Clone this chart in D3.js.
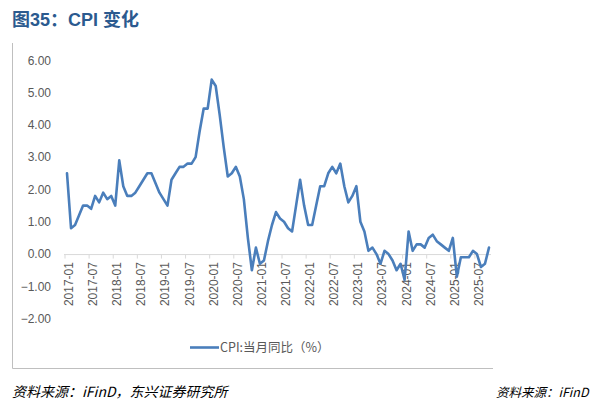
<!DOCTYPE html>
<html><head><meta charset="utf-8">
<script src="https://cdn.jsdelivr.net/npm/d3@7/dist/d3.min.js"></script>
<style>body{margin:0;background:#fff}svg{display:block}</style>
</head><body>
<script>
// ---- data ----
const startYear = 2017;
const cpiValues = [
  2.5, 0.8, 0.9, 1.2, 1.5, 1.5, 1.4, 1.8, 1.6, 1.9, 1.7, 1.8,
  1.5, 2.9, 2.1, 1.8, 1.8, 1.9, 2.1, 2.3, 2.5, 2.5, 2.2, 1.9,
  1.7, 1.5, 2.3, 2.5, 2.7, 2.7, 2.8, 2.8, 3.0, 3.8, 4.5, 4.5,
  5.4, 5.2, 4.3, 3.3, 2.4, 2.5, 2.7, 2.4, 1.7, 0.5, -0.5, 0.2,
  -0.3, -0.2, 0.4, 0.9, 1.3, 1.1, 1.0, 0.8, 0.7, 1.5, 2.3, 1.5,
  0.9, 0.9, 1.5, 2.1, 2.1, 2.5, 2.7, 2.5, 2.8, 2.1, 1.6, 1.8,
  2.1, 1.0, 0.7, 0.1, 0.2, 0.0, -0.3, 0.1, 0.0, -0.2, -0.5, -0.3,
  -0.8, 0.7, 0.1, 0.3, 0.3, 0.2, 0.5, 0.6, 0.4, 0.3, 0.2, 0.1,
  0.5, -0.7, -0.1, -0.1, -0.1, 0.1, 0.0, -0.4, -0.3, 0.2
];
const categories = cpiValues.map((v, i) =>
  `${startYear + Math.floor(i / 12)}-${String(i % 12 + 1).padStart(2, "0")}`);
const tickLabels = ["2017-01","2017-07","2018-01","2018-07","2019-01","2019-07",
  "2020-01","2020-07","2021-01","2021-07","2022-01","2022-07","2023-01","2023-07",
  "2024-01","2024-07","2025-01","2025-07"];
const yTicks = [-2, -1, 0, 1, 2, 3, 4, 5, 6];
const title = "图35：CPI 变化";
const legendLabel = "CPI:当月同比（%）";
const sourceText = "资料来源：iFinD，东兴证券研究所";
const sourceTextRight = "资料来源：iFinD";

// ---- drawing ----
const W = 596, H = 410;
const svg = d3.select("body").append("svg").attr("width", W).attr("height", H);
svg.append("rect").attr("width", W).attr("height", H).attr("fill", "#fff");

const x = d3.scaleBand().domain(categories).range([65, 491]).padding(0);
const y = d3.scaleLinear().domain([-2, 6]).range([318.7, 60.2]);

// frame (left + bottom)
svg.append("path").attr("d", "M12.5,43 V368.5 H493")
  .attr("fill", "none").attr("stroke", "#bfbfbf").attr("stroke-width", 1);

// title
svg.append("text").attr("x", 12).attr("y", 26).text(title)
  .attr("font-family", "Liberation Sans, Noto Sans CJK SC, sans-serif")
  .attr("font-size", 18).attr("font-weight", "bold").attr("fill", "#2b5a8f");

// y axis labels
const yAxis = d3.axisLeft(y).tickValues(yTicks).tickFormat(d3.format(".2f")).tickSize(0).tickPadding(0);
const gy = svg.append("g").attr("transform", "translate(51,0)").call(yAxis);
gy.select(".domain").remove();
gy.selectAll("text").attr("font-family", "Liberation Sans, Arial, sans-serif")
  .attr("font-size", 12).attr("fill", "#595959");

// x axis at zero
const xAxis = d3.axisBottom(x).tickValues(tickLabels).tickSizeOuter(0).tickSize(4);
const gx = svg.append("g").attr("transform", `translate(0,${y(0)})`).call(xAxis);
gx.select(".domain").attr("stroke", "#d9d9d9").attr("d", `M${x.range()[0] - 1},0.5H${x.range()[1]}`);
gx.selectAll(".tick line").attr("stroke", "#d9d9d9")
  .attr("transform", `translate(${-x.bandwidth() / 2},0.5)`);
gx.selectAll(".tick text")
  .attr("font-family", "Liberation Sans, Arial, sans-serif")
  .attr("font-size", 12).attr("fill", "#595959")
  .attr("text-anchor", "end").attr("dominant-baseline", "central")
  .attr("transform", "translate(2,8) rotate(-90)")
  .attr("x", 0).attr("y", 0).attr("dy", null);

// line
const line = d3.line()
  .x((d, i) => x(categories[i]) + x.bandwidth() / 2)
  .y(d => y(d));
svg.append("path").datum(cpiValues).attr("d", line)
  .attr("fill", "none").attr("stroke", "#4a7ebb").attr("stroke-width", 2.6)
  .attr("stroke-linejoin", "round").attr("stroke-linecap", "round");

// legend
svg.append("line").attr("x1", 190).attr("x2", 219).attr("y1", 347.5).attr("y2", 347.5)
  .attr("stroke", "#4a7ebb").attr("stroke-width", 2.6);
svg.append("text").attr("x", 220).attr("y", 352).text(legendLabel)
  .attr("font-family", "Noto Sans CJK SC, sans-serif").attr("font-size", 12.5)
  .attr("fill", "#595959");

// source
svg.append("text").attr("x", 12).attr("y", 397).text(sourceText)
  .attr("font-family", "Noto Sans CJK SC, sans-serif").attr("font-size", 14)
  .attr("font-style", "italic").attr("fill", "#000");
svg.append("text").attr("x", 496).attr("y", 397).text(sourceTextRight)
  .attr("font-family", "Noto Sans CJK SC, sans-serif").attr("font-size", 12.5)
  .attr("font-style", "italic").attr("fill", "#000");
</script>
</body></html>
